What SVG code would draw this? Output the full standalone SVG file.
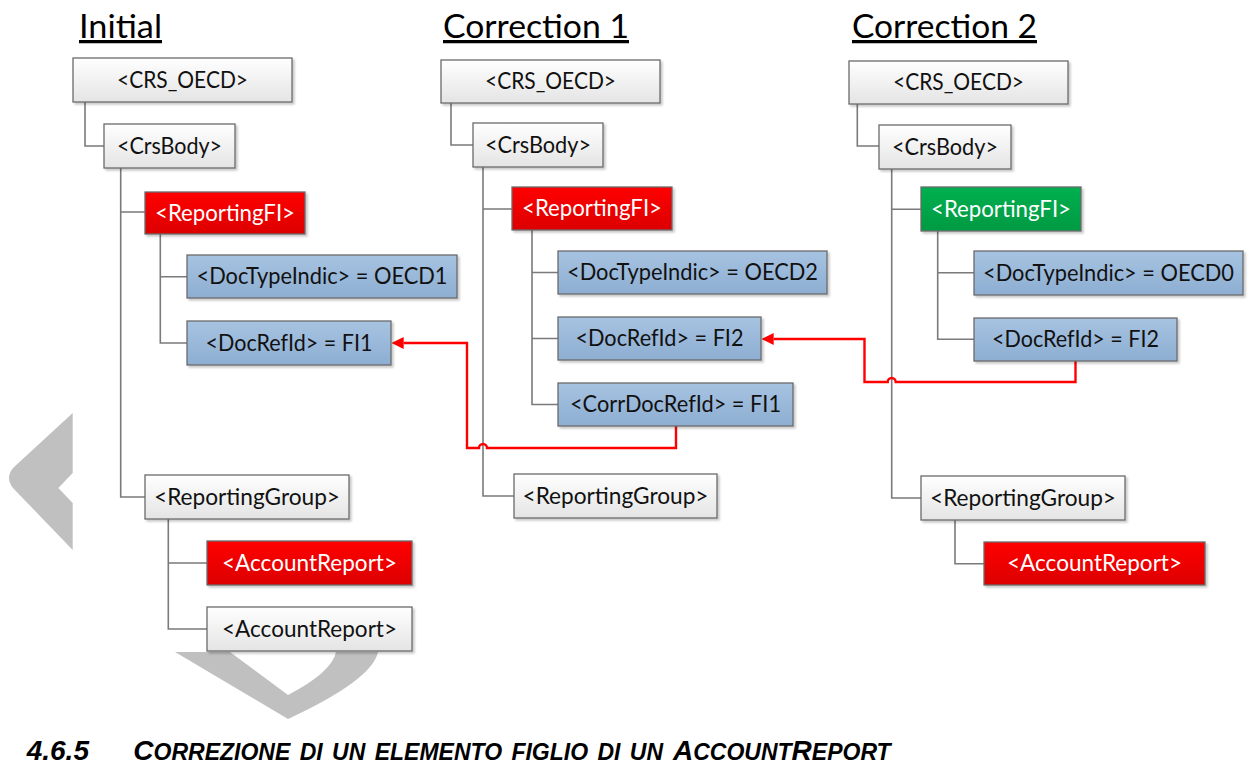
<svg xmlns="http://www.w3.org/2000/svg" width="1253" height="764" viewBox="0 0 1253 764">
<defs>
<linearGradient id="gw" x1="0" y1="0" x2="0" y2="1"><stop offset="0" stop-color="#ffffff"/><stop offset="1" stop-color="#e4e4e4"/></linearGradient>
<linearGradient id="gr" x1="0" y1="0" x2="0" y2="1"><stop offset="0" stop-color="#ff0000"/><stop offset="1" stop-color="#dc0000"/></linearGradient>
<linearGradient id="gb" x1="0" y1="0" x2="0" y2="1"><stop offset="0" stop-color="#a7c3e1"/><stop offset="1" stop-color="#8daed2"/></linearGradient>
<linearGradient id="gg" x1="0" y1="0" x2="0" y2="1"><stop offset="0" stop-color="#00b050"/><stop offset="1" stop-color="#009a42"/></linearGradient>
<filter id="sh" x="-5%" y="-10%" width="115%" height="135%"><feDropShadow dx="2" dy="2" stdDeviation="1.2" flood-color="#000" flood-opacity="0.22"/></filter>
<marker id="ah" viewBox="0 0 12 12" refX="0" refY="6" markerWidth="12" markerHeight="12" markerUnits="userSpaceOnUse" orient="auto"><path d="M0,0 L12,6 L0,12 Z" fill="#ff0000"/></marker>
<style>
.bx{stroke:#6a6a6a;stroke-width:1.3;filter:url(#sh)}
.w{fill:url(#gw)}.r{fill:url(#gr)}.b{fill:url(#gb)}.g{fill:url(#gg)}
.t{font-family:Lato,"Liberation Sans",sans-serif;font-size:22.5px;text-anchor:middle;fill:#111}
.tw{fill:#fff}
.ttl{font-family:Lato,"Liberation Sans",sans-serif;font-size:32.5px;fill:#000;text-decoration:underline}
.cn{fill:none;stroke:#7a7a7a;stroke-width:1.6}
.rd{fill:none;stroke:#ff0000;stroke-width:2.4}
.wm{fill:#c0c0c0}
.cap{font-family:"Liberation Sans",Arial,sans-serif;font-weight:bold;font-style:italic;fill:#000}
</style>
</defs>
<rect width="1253" height="764" fill="#fff"/>
<g id="watermark">
<path class="wm" d="M72.7,413 L13,468 Q5,478 13,488 L72.7,550 L72.7,503 L58.3,488 L72.7,473 Z"/>
<path class="wm" d="M175,652 L288,719 Q372,680 378,652 L336,652 Q332,672 288,695 L230,652 Z"/>
</g>
<g id="titles">
<text class="ttl" x="79" y="38" textLength="83" lengthAdjust="spacingAndGlyphs">Initial</text>
<text class="ttl" x="443" y="38" textLength="186" lengthAdjust="spacingAndGlyphs">Correction 1</text>
<text class="ttl" x="852" y="38" textLength="185" lengthAdjust="spacingAndGlyphs">Correction 2</text>
</g>
<g id="connectors">
<path class="cn" d="M85,102 V146 H104"/>
<path class="cn" d="M120.7,168 V497 H145 M120.7,212 H145"/>
<path class="cn" d="M160.3,234 V343 H187 M160.3,276.7 H187"/>
<path class="cn" d="M168.3,519 V629 H207 M168.3,563 H207"/>
<path class="cn" d="M451,103 V145 H473"/>
<path class="cn" d="M483,167 V496 H514 M483,209 H512"/>
<path class="cn" d="M532,230 V404.5 H558 M532,272.5 H558 M532,338.5 H558"/>
<path class="cn" d="M857.3,104 V146 H879"/>
<path class="cn" d="M891.7,169 V498 H921 M891.7,209.3 H921"/>
<path class="cn" d="M937.7,231 V339.3 H974 M937.7,272.7 H974"/>
<path class="cn" d="M955,520 V563.7 H984"/>
<path class="rd" marker-end="url(#ah)" d="M676,426 V448 H487 A4,4 0 0 0 479,448 H467 V343 H403.7"/>
<path class="rd" marker-end="url(#ah)" d="M1075.5,360 V382 H895.7 A4,4 0 0 0 887.7,382 H864.5 V339 H773.7"/>
</g>
<g id="i-crs"><rect class="bx w" x="73" y="58" width="219" height="44"/><text class="t" x="182.5" y="88" textLength="131" lengthAdjust="spacingAndGlyphs">&lt;CRS_OECD&gt;</text></g>
<g id="i-body"><rect class="bx w" x="104" y="124" width="131" height="44"/><text class="t" x="169.5" y="154" textLength="105" lengthAdjust="spacingAndGlyphs">&lt;CrsBody&gt;</text></g>
<g id="i-rfi"><rect class="bx r" x="145" y="192" width="160" height="42"/><text class="t tw" x="225" y="220.5" textLength="140" lengthAdjust="spacingAndGlyphs">&lt;ReportingFI&gt;</text></g>
<g id="i-dti"><rect class="bx b" x="187" y="255" width="270" height="43"/><text class="t" x="322" y="284" textLength="251" lengthAdjust="spacingAndGlyphs">&lt;DocTypeIndic&gt; = OECD1</text></g>
<g id="i-dri"><rect class="bx b" x="187" y="321" width="204" height="44"/><text class="t" x="289" y="350.5" textLength="167" lengthAdjust="spacingAndGlyphs">&lt;DocRefId&gt; = FI1</text></g>
<g id="i-rg"><rect class="bx w" x="145" y="475" width="204" height="44"/><text class="t" x="247" y="504.5" textLength="186" lengthAdjust="spacingAndGlyphs">&lt;ReportingGroup&gt;</text></g>
<g id="i-ar1"><rect class="bx r" x="207" y="541" width="205" height="44"/><text class="t tw" x="309.5" y="570.5" textLength="175" lengthAdjust="spacingAndGlyphs">&lt;AccountReport&gt;</text></g>
<g id="i-ar2"><rect class="bx w" x="207" y="607" width="205" height="44"/><text class="t" x="309.5" y="636.5" textLength="175" lengthAdjust="spacingAndGlyphs">&lt;AccountReport&gt;</text></g>
<g id="c1-crs"><rect class="bx w" x="441" y="60" width="219" height="43"/><text class="t" x="550.5" y="89" textLength="131" lengthAdjust="spacingAndGlyphs">&lt;CRS_OECD&gt;</text></g>
<g id="c1-body"><rect class="bx w" x="473" y="123" width="130" height="44"/><text class="t" x="538" y="152.5" textLength="106" lengthAdjust="spacingAndGlyphs">&lt;CrsBody&gt;</text></g>
<g id="c1-rfi"><rect class="bx r" x="512" y="187" width="160" height="43"/><text class="t tw" x="592" y="216" textLength="140" lengthAdjust="spacingAndGlyphs">&lt;ReportingFI&gt;</text></g>
<g id="c1-dti"><rect class="bx b" x="558" y="251" width="269" height="43"/><text class="t" x="692.5" y="280" textLength="251" lengthAdjust="spacingAndGlyphs">&lt;DocTypeIndic&gt; = OECD2</text></g>
<g id="c1-dri"><rect class="bx b" x="558" y="317" width="203" height="43"/><text class="t" x="659.5" y="346" textLength="168" lengthAdjust="spacingAndGlyphs">&lt;DocRefId&gt; = FI2</text></g>
<g id="c1-cdri"><rect class="bx b" x="558" y="383" width="235" height="43"/><text class="t" x="675.5" y="412" textLength="211" lengthAdjust="spacingAndGlyphs">&lt;CorrDocRefId&gt; = FI1</text></g>
<g id="c1-rg"><rect class="bx w" x="514" y="474" width="203" height="44"/><text class="t" x="615.5" y="503.5" textLength="186" lengthAdjust="spacingAndGlyphs">&lt;ReportingGroup&gt;</text></g>
<g id="c2-crs"><rect class="bx w" x="849" y="61" width="219" height="43"/><text class="t" x="958.5" y="90" textLength="131" lengthAdjust="spacingAndGlyphs">&lt;CRS_OECD&gt;</text></g>
<g id="c2-body"><rect class="bx w" x="879" y="125" width="132" height="44"/><text class="t" x="945" y="154.5" textLength="106" lengthAdjust="spacingAndGlyphs">&lt;CrsBody&gt;</text></g>
<g id="c2-rfi"><rect class="bx g" x="921" y="187" width="160" height="44"/><text class="t tw" x="1001" y="216.5" textLength="140" lengthAdjust="spacingAndGlyphs">&lt;ReportingFI&gt;</text></g>
<g id="c2-dti"><rect class="bx b" x="974" y="251" width="269" height="44"/><text class="t" x="1108.5" y="280.5" textLength="251" lengthAdjust="spacingAndGlyphs">&lt;DocTypeIndic&gt; = OECD0</text></g>
<g id="c2-dri"><rect class="bx b" x="974" y="318" width="203" height="43"/><text class="t" x="1075.5" y="347" textLength="167" lengthAdjust="spacingAndGlyphs">&lt;DocRefId&gt; = FI2</text></g>
<g id="c2-rg"><rect class="bx w" x="921" y="476" width="204" height="44"/><text class="t" x="1023" y="505.5" textLength="186" lengthAdjust="spacingAndGlyphs">&lt;ReportingGroup&gt;</text></g>
<g id="c2-ar"><rect class="bx r" x="984" y="542" width="221" height="43"/><text class="t tw" x="1094.5" y="571" textLength="175" lengthAdjust="spacingAndGlyphs">&lt;AccountReport&gt;</text></g>
<g id="caption">
<text class="cap" x="26.7" y="760" font-size="28">4.6.5</text>
<text class="cap" y="760" font-size="23" word-spacing="3"><tspan x="133.3" font-size="28">C</tspan>ORREZIONE DI UN ELEMENTO FIGLIO DI UN <tspan x="673" font-size="28">A</tspan>CCOUNT<tspan x="791.6" font-size="28">R</tspan>EPORT</text>
</g>
</svg>
